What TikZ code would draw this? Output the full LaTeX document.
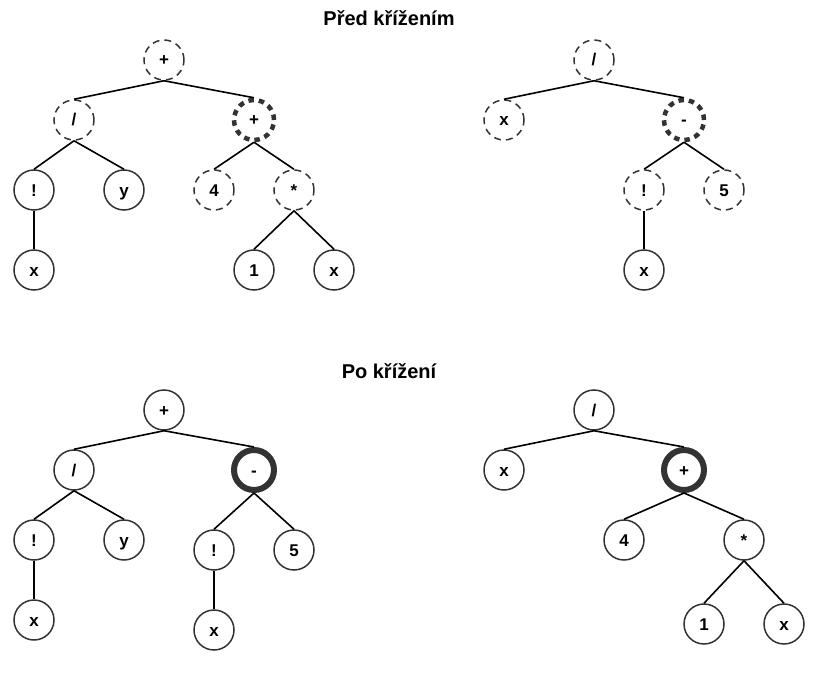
\documentclass[tikz,border=0pt]{standalone}
\usepackage{fontspec}
\setmainfont{Liberation Sans}
\begin{document}
\begin{tikzpicture}[x=1pt,y=-1pt,
  nd/.style={circle,draw=black!80,line width=1.5pt,minimum size=40pt,inner sep=0pt,text height=12pt,text depth=0pt,font=\fontsize{17}{19}\selectfont\bfseries,fill=white},
  dsh/.style={nd,dash pattern=on 7pt off 5pt},
  thd/.style={nd,line width=4.5pt,dash pattern=on 5.5pt off 5pt},
  ths/.style={nd,line width=6pt},
  ttl/.style={font=\fontsize{20}{22}\selectfont\bfseries},
  ed/.style={line width=1.6pt,black}]
\useasboundingbox (0,0) rectangle (830,682);
\node[ttl] (t1) at (389,18) {Před křížením};
\node[ttl] (t2) at (389,371) {Po křížení};
% top tree 1
\node[dsh] (a) at (164,60) {+};
\node[dsh] (b) at (74,120) {/};
\node[thd] (c) at (254,120) {+};
\node[nd] (d) at (34,190) {!};
\node[nd] (e) at (124,190) {y};
\node[dsh] (f) at (214,190) {4};
\node[dsh] (g) at (294,190) {*};
\node[nd] (h) at (34,270) {x};
\node[nd] (i) at (254,270) {1};
\node[nd] (j) at (334,270) {x};
% top tree 2
\node[dsh] (k) at (594,60) {/};
\node[dsh] (l) at (504,120) {x};
\node[thd] (m) at (684,120) {-};
\node[dsh] (n) at (644,190) {!};
\node[dsh] (o) at (724,190) {5};
\node[nd] (p) at (644,270) {x};
% bottom tree 1
\node[nd] (A) at (164,410) {+};
\node[nd] (B) at (74,470) {/};
\node[ths] (C) at (254,470) {-};
\node[nd] (D) at (34,540) {!};
\node[nd] (E) at (124,540) {y};
\node[nd] (F) at (214,550) {!};
\node[nd] (G) at (294,550) {5};
\node[nd] (H) at (34,620) {x};
\node[nd] (I) at (214,630) {x};
% bottom tree 2
\node[nd] (K) at (594,410) {/};
\node[nd] (L) at (504,470) {x};
\node[ths] (M) at (684,470) {+};
\node[nd] (N) at (624,540) {4};
\node[nd] (O) at (744,540) {*};
\node[nd] (P) at (704,624) {1};
\node[nd] (Q) at (784,624) {x};
% edges
\foreach \u/\v in {a/b,a/c,b/d,b/e,c/f,c/g,d/h,g/i,g/j,k/l,k/m,m/n,m/o,n/p,
  A/B,A/C,B/D,B/E,C/F,C/G,D/H,F/I,K/L,K/M,M/N,M/O,O/P,O/Q}
  \draw[ed] (\u.south) -- (\v.north);
\end{tikzpicture}
\end{document}
